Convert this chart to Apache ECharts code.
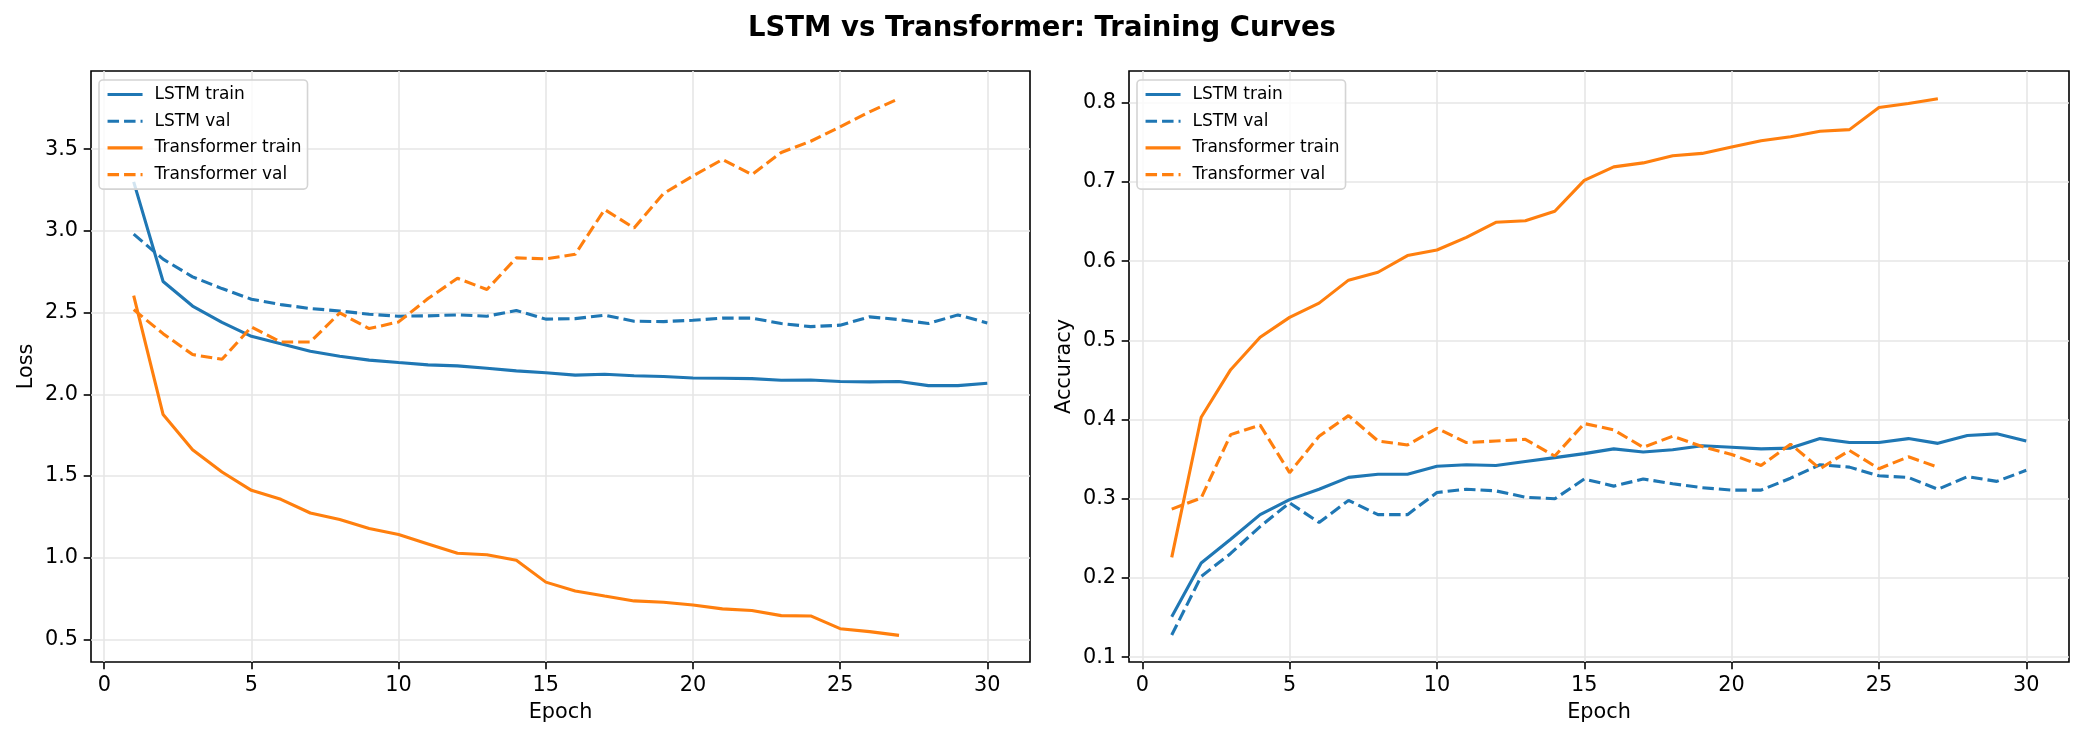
<!DOCTYPE html>
<html>
<head>
<meta charset="utf-8">
<script src="https://cdn.jsdelivr.net/npm/echarts@6/dist/echarts.min.js"></script>
<style>
    html, body { margin: 0; padding: 0; background: #fff; }
    #chart { width: 2084px; height: 740px; }
</style>
</head>
<body>
<div id="chart"></div>
<script>
// epochs 1..30 (transformer stopped early at 27)
const epochs = [1, 2, 3, 4, 5, 6, 7, 8, 9, 10, 11, 12, 13, 14, 15, 16, 17, 18, 19, 20, 21, 22, 23, 24, 25, 26, 27, 28, 29, 30];
const xTicks = [0, 5, 10, 15, 20, 25, 30];
const lossTicks = [0.5, 1.0, 1.5, 2.0, 2.5, 3.0, 3.5];
const accTicks = [0.1, 0.2, 0.3, 0.4, 0.5, 0.6, 0.7, 0.8];

// loss
const lstmTrainLoss = [3.30, 2.69, 2.54, 2.44, 2.355, 2.31, 2.263, 2.233, 2.209, 2.194, 2.18, 2.174, 2.159, 2.143, 2.132, 2.117, 2.123, 2.113, 2.109, 2.100, 2.098, 2.096, 2.086, 2.087, 2.078, 2.076, 2.078, 2.053, 2.053, 2.067];
const lstmValLoss = [2.98, 2.827, 2.719, 2.647, 2.582, 2.549, 2.525, 2.51, 2.49, 2.478, 2.48, 2.486, 2.478, 2.513, 2.46, 2.463, 2.484, 2.447, 2.445, 2.453, 2.466, 2.466, 2.433, 2.414, 2.423, 2.474, 2.457, 2.433, 2.486, 2.437];
const transTrainLoss = [2.604, 1.876, 1.661, 1.524, 1.412, 1.357, 1.273, 1.233, 1.178, 1.141, 1.084, 1.027, 1.018, 0.984, 0.85, 0.796, 0.765, 0.735, 0.727, 0.71, 0.686, 0.676, 0.645, 0.643, 0.565, 0.547, 0.524];
const transValLoss = [2.518, 2.371, 2.243, 2.214, 2.412, 2.32, 2.32, 2.498, 2.402, 2.443, 2.586, 2.71, 2.641, 2.835, 2.829, 2.857, 3.131, 3.018, 3.229, 3.337, 3.437, 3.345, 3.48, 3.549, 3.637, 3.729, 3.81];

// accuracy
const lstmTrainAcc = [0.151, 0.219, 0.249, 0.280, 0.299, 0.312, 0.327, 0.331, 0.331, 0.341, 0.343, 0.342, 0.347, 0.352, 0.357, 0.363, 0.359, 0.362, 0.367, 0.365, 0.363, 0.364, 0.376, 0.371, 0.371, 0.376, 0.370, 0.380, 0.382, 0.373];
const lstmValAcc = [0.128, 0.202, 0.231, 0.265, 0.295, 0.270, 0.298, 0.280, 0.280, 0.308, 0.312, 0.310, 0.302, 0.300, 0.325, 0.316, 0.325, 0.319, 0.314, 0.311, 0.311, 0.326, 0.343, 0.340, 0.329, 0.327, 0.312, 0.328, 0.322, 0.336];
const transTrainAcc = [0.226, 0.403, 0.463, 0.504, 0.529, 0.547, 0.576, 0.586, 0.607, 0.614, 0.630, 0.649, 0.651, 0.663, 0.702, 0.719, 0.724, 0.733, 0.736, 0.744, 0.752, 0.757, 0.764, 0.766, 0.794, 0.799, 0.805];
const transValAcc = [0.287, 0.301, 0.381, 0.393, 0.333, 0.379, 0.405, 0.373, 0.368, 0.389, 0.371, 0.373, 0.375, 0.354, 0.395, 0.387, 0.365, 0.379, 0.366, 0.356, 0.342, 0.369, 0.338, 0.361, 0.338, 0.353, 0.340];

const BLUE = '#1f77b4';
const ORANGE = '#ff7f0e';
const FONT = 'DejaVu Sans';
const DASH = [11.5, 5];

function pairs(vals) {
    return vals.map((v, i) => [epochs[i], v]);
}

function makeSeries(name, vals, color, dashed, idx) {
    return {
        name: name,
        type: 'line',
        xAxisIndex: idx,
        yAxisIndex: idx,
        data: pairs(vals),
        symbol: 'none',
        lineStyle: { color: color, width: 3.1, type: dashed ? DASH : 'solid' },
        itemStyle: { color: color }
    };
}

function makeX(idx) {
    return {
        type: 'value',
        gridIndex: idx,
        min: -0.45,
        max: 31.45,
        name: 'Epoch',
        nameLocation: 'middle',
        nameGap: 40,
        nameTextStyle: { fontFamily: FONT, fontSize: 20.8, color: '#000' },
        axisLine: { show: false, onZero: false },
        axisTick: { show: true, inside: false, length: 7.3, customValues: xTicks, lineStyle: { color: '#000', width: 1.6 } },
        axisLabel: { customValues: xTicks, margin: 13, fontFamily: FONT, fontSize: 20.8, color: '#000' },
        splitLine: { show: true, lineStyle: { color: '#e6e6e6', width: 1.6 } }
    };
}

function makeY(idx, name, min, max, ticks) {
    return {
        type: 'value',
        gridIndex: idx,
        min: min,
        max: max,
        name: name,
        nameLocation: 'middle',
        nameGap: 54,
        nameTextStyle: { fontFamily: FONT, fontSize: 20.8, color: '#000' },
        axisLine: { show: false, onZero: false },
        axisTick: { show: true, inside: false, length: 7.3, customValues: ticks, lineStyle: { color: '#000', width: 1.6 } },
        axisLabel: { customValues: ticks, margin: 13, fontFamily: FONT, fontSize: 20.8, color: '#000',
            formatter: v => v.toFixed(1) },
        splitLine: { show: true, lineStyle: { color: '#e6e6e6', width: 1.6 } }
    };
}

function makeLegend(left) {
    return {
        orient: 'vertical',
        left: left,
        top: 80,
        padding: [6, 6, 6, 7],
        itemWidth: 35,
        itemHeight: 17,
        itemGap: 9.7,
        borderColor: '#d4d4d4',
        borderWidth: 1.6,
        borderRadius: 4,
        backgroundColor: 'rgba(255,255,255,0.8)',
        // plain line handles, no marker in the middle
        itemStyle: { opacity: 0 },
        lineStyle: { width: 3.1 },
        textStyle: { fontFamily: FONT, fontSize: 17, color: '#000', padding: [0, 0, 0, 7] },
        data: ['LSTM train', 'LSTM val', 'Transformer train', 'Transformer val']
    };
}

const chart = echarts.init(document.getElementById('chart'), null, { renderer: 'canvas' });
chart.setOption({
    animation: false,
    backgroundColor: '#fff',
    title: {
        text: 'LSTM vs Transformer: Training Curves',
        left: 'center',
        top: 10,
        textStyle: { fontFamily: FONT, fontSize: 27.5, fontWeight: 'bold', color: '#000' }
    },
    legend: [makeLegend(99), makeLegend(1137)],
    grid: [
        { left: 91, top: 71, width: 939, height: 591, show: true, borderColor: '#000', borderWidth: 1.6, backgroundColor: 'transparent' },
        { left: 1129, top: 71, width: 940, height: 591, show: true, borderColor: '#000', borderWidth: 1.6, backgroundColor: 'transparent' }
    ],
    xAxis: [makeX(0), makeX(1)],
    yAxis: [
        makeY(0, 'Loss', 0.361, 3.979, lossTicks),
        makeY(1, 'Accuracy', 0.094, 0.840, accTicks)
    ],
    series: [
        makeSeries('LSTM train', lstmTrainLoss, BLUE, false, 0),
        makeSeries('LSTM val', lstmValLoss, BLUE, true, 0),
        makeSeries('Transformer train', transTrainLoss, ORANGE, false, 0),
        makeSeries('Transformer val', transValLoss, ORANGE, true, 0),
        makeSeries('LSTM train', lstmTrainAcc, BLUE, false, 1),
        makeSeries('LSTM val', lstmValAcc, BLUE, true, 1),
        makeSeries('Transformer train', transTrainAcc, ORANGE, false, 1),
        makeSeries('Transformer val', transValAcc, ORANGE, true, 1)
    ]
});
</script>
</body>
</html>
